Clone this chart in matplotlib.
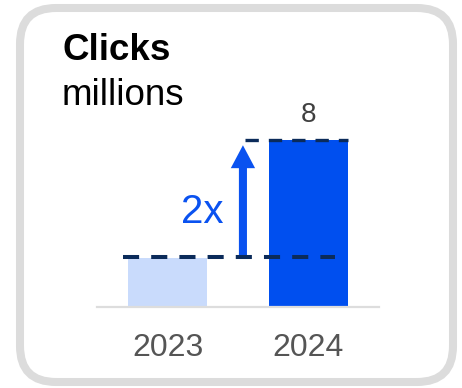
import matplotlib
matplotlib.use("Agg")
import matplotlib.pyplot as plt
from matplotlib.patches import FancyBboxPatch
from matplotlib.transforms import IdentityTransform, offset_copy

# Data
years = ["2023", "2024"]
clicks = [4, 8]          # millions
growth_label = "2x"
title = "Clicks"
unit = "millions"

W, H, DPI = 462, 388, 100
plt.rcParams["font.family"] = ["Liberation Sans", "DejaVu Sans"]

fig = plt.figure(figsize=(W / DPI, H / DPI), dpi=DPI)
fig.patch.set_facecolor("white")

# Rounded card outline (pixel coordinates)
card = FancyBboxPatch((20, 6), 433, 374, boxstyle="round,pad=0,rounding_size=36",
                      transform=IdentityTransform(), facecolor="none",
                      edgecolor="#dcdcdc", linewidth=5.8, zorder=-1)
fig.patches.append(card)

fig.text(62 / W, 1 - 60 / H, title, fontsize=26.5, fontweight="bold",
         color="black", va="baseline", ha="left")
fig.text(62 / W, 1 - 105 / H, unit, fontsize=26.5, color="black",
         va="baseline", ha="left")

# Plot area
ax = fig.add_axes([97 / W, 81 / H, 282 / W, 208 / H])
ax.set_facecolor("none")
ax.set_xlim(-0.5, 1.5)
ax.set_ylim(2.34, 9.4)

x = list(range(len(years)))
bar_colors = ["#c9dbfc", "#004fef"]
ax.bar(x, clicks, width=0.56, color=bar_colors, zorder=2)

for s in ["top", "left", "right"]:
    ax.spines[s].set_visible(False)
ax.spines["bottom"].set_color("#dddddd")
ax.spines["bottom"].set_linewidth(1.6)
ax.set_yticks([])
ax.set_xticks(x)
ax.set_xticklabels(years, fontsize=23, color="#555555")
ax.tick_params(axis="x", length=0, pad=19)

# Value label on the latest bar
ax.annotate(str(clicks[1]), xy=(x[1], clicks[1]), xytext=(0, 13),
            textcoords="offset points", ha="center", va="baseline",
            fontsize=20, color="#404040")

# Reference dashes at both bar heights
navy = "#0b2b5a"
low_tr = offset_copy(ax.transData, fig=fig, x=0, y=1.5, units="dots")
ax.plot([-0.316, 1.19], [clicks[0], clicks[0]], color=navy, lw=2.9,
        linestyle=(0, (4, 3)), transform=low_tr, zorder=4, solid_capstyle="butt")
ax.plot([0.55, 1.28], [clicks[1], clicks[1]], color=navy, lw=2.4,
        linestyle=(0, (4, 3)), zorder=4)

# Growth arrow
blue = "#0a52f0"
ax.annotate("", xy=(0.535, 7.83), xytext=(0.535, clicks[0]),
            arrowprops=dict(arrowstyle="simple,head_length=16.5,head_width=17.5,tail_width=5.8",
                            mutation_scale=1, color=blue, shrinkA=0, shrinkB=0,
                            linewidth=0),
            zorder=3)
ax.text(0.40, 5.19, growth_label, fontsize=29, color=blue,
        ha="right", va="baseline")

fig.savefig("out.png", dpi=DPI, facecolor="white")
